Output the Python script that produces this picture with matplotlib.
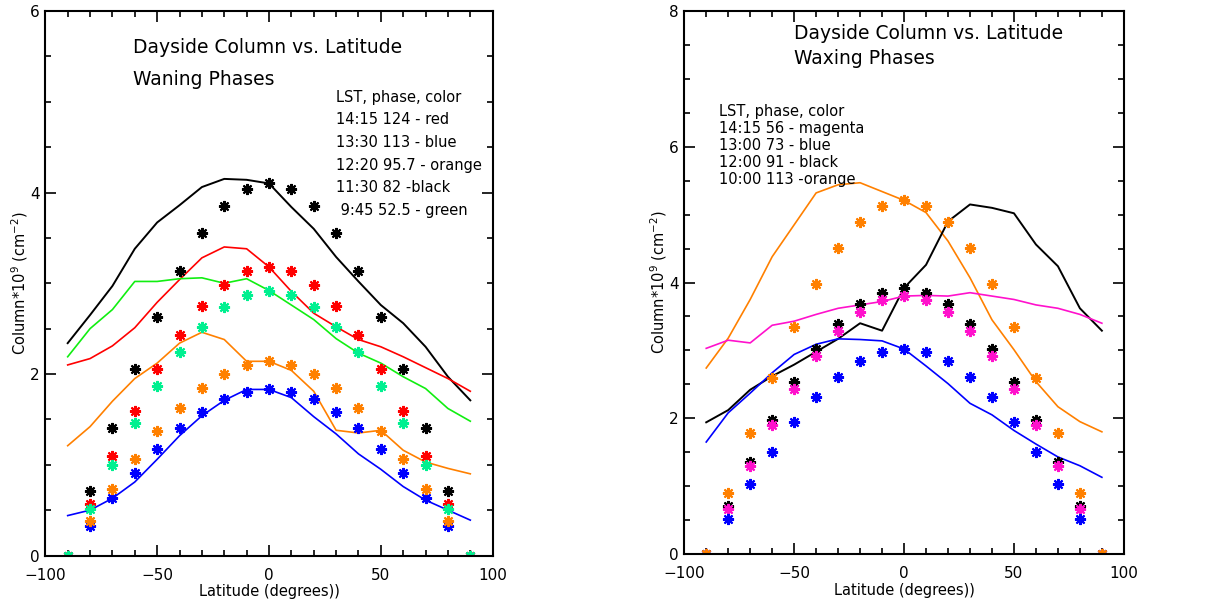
import matplotlib
matplotlib.use("Agg")
import matplotlib.pyplot as plt
from matplotlib.ticker import MultipleLocator

lat = list(range(-90, 91, 10))
half = [0, 10, 20, 30, 40, 50, 60, 70, 80, 90]  # symmetric obs points

# ---- waning phases (left) ----
wan_black_line = [2.34, 2.65, 2.97, 3.38, 3.67, 3.86, 4.06, 4.15, 4.14, 4.10,
                  3.84, 3.60, 3.29, 3.02, 2.76, 2.56, 2.30, 1.97, 1.71]
wan_red_line = [2.10, 2.17, 2.31, 2.51, 2.79, 3.04, 3.28, 3.40, 3.38, 3.18,
                2.91, 2.67, 2.52, 2.38, 2.30, 2.19, 2.07, 1.95, 1.81]
wan_green_line = [2.19, 2.50, 2.71, 3.02, 3.02, 3.05, 3.06, 3.00, 3.05, 2.92,
                  2.76, 2.60, 2.39, 2.23, 2.12, 1.97, 1.84, 1.62, 1.48]
wan_orange_line = [1.21, 1.42, 1.70, 1.95, 2.12, 2.34, 2.46, 2.38, 2.14, 2.14,
                   2.04, 1.81, 1.38, 1.35, 1.38, 1.16, 1.03, 0.96, 0.90]
wan_blue_line = [0.44, 0.50, 0.63, 0.81, 1.06, 1.32, 1.54, 1.71, 1.83, 1.83,
                 1.74, 1.53, 1.34, 1.12, 0.95, 0.76, 0.61, 0.50, 0.39]

wan_black_pts = [4.10, 4.04, 3.85, 3.55, 3.14, 2.63, 2.05, 1.40, 0.71, 0.0]
wan_red_pts = [3.18, 3.13, 2.98, 2.75, 2.43, 2.05, 1.59, 1.10, 0.57, 0.0]
wan_green_pts = [2.92, 2.87, 2.74, 2.52, 2.24, 1.87, 1.46, 1.00, 0.51, 0.0]
wan_orange_pts = [2.14, 2.10, 2.00, 1.85, 1.63, 1.37, 1.06, 0.73, 0.38, 0.0]
wan_blue_pts = [1.83, 1.80, 1.72, 1.58, 1.40, 1.17, 0.91, 0.63, 0.32, 0.0]

wan_legend = ["LST, phase, color", "14:15 124 - red", "13:30 113 - blue",
              "12:20 95.7 - orange", "11:30 82 -black", " 9:45 52.5 - green"]

# ---- waxing phases (right) ----
wax_orange_line = [2.74, 3.18, 3.75, 4.38, 4.85, 5.32, 5.44, 5.47, 5.34, 5.21,
                   5.03, 4.61, 4.07, 3.45, 3.01, 2.54, 2.17, 1.95, 1.80]
wax_black_line = [1.94, 2.12, 2.42, 2.62, 2.79, 2.98, 3.17, 3.40, 3.29, 3.92,
                  4.26, 4.90, 5.15, 5.10, 5.02, 4.56, 4.24, 3.62, 3.29]
wax_magenta_line = [3.03, 3.15, 3.11, 3.37, 3.43, 3.53, 3.62, 3.67, 3.72, 3.80,
                    3.81, 3.80, 3.85, 3.80, 3.75, 3.67, 3.62, 3.53, 3.40]
wax_blue_line = [1.65, 2.08, 2.37, 2.67, 2.94, 3.09, 3.17, 3.16, 3.14, 3.02,
                 2.77, 2.51, 2.22, 2.05, 1.82, 1.62, 1.43, 1.30, 1.13]

wax_black_pts = [3.92, 3.85, 3.68, 3.39, 3.02, 2.53, 1.97, 1.35, 0.70, 0.0]
wax_magenta_pts = [3.80, 3.74, 3.56, 3.28, 2.91, 2.43, 1.90, 1.29, 0.66, 0.0]
wax_blue_pts = [3.02, 2.97, 2.84, 2.61, 2.31, 1.94, 1.50, 1.03, 0.52, 0.0]
wax_orange_pts = [5.21, 5.12, 4.89, 4.51, 3.98, 3.34, 2.60, 1.78, 0.90, 0.0]

wax_legend = ["LST, phase, color", "14:15 56 - magenta", "13:00 73 - blue",
              "12:00 91 - black", "10:00 113 -orange"]

C_ORANGE = '#FF8000'
C_GREEN_LINE = '#11EE11'
C_GREEN_PTS = '#00F090'
C_MAGENTA = '#FF11CC'


def mirror(vals):
    # points are listed from 0 to 90; the profile is symmetric
    xs = [-h for h in half[::-1]] + half[1:]
    ys = vals[::-1] + vals[1:]
    return xs, ys


def stars(ax, vals, color):
    xs, ys = mirror(vals)
    ax.plot(xs, ys, linestyle='none', marker=(8, 2, 0), markersize=8,
            markeredgewidth=1.5, color=color)


def style(ax, ymax):
    ax.set_xlim(-100, 100)
    ax.set_ylim(0, ymax)
    ax.xaxis.set_major_locator(MultipleLocator(50))
    ax.xaxis.set_minor_locator(MultipleLocator(10))
    ax.yaxis.set_major_locator(MultipleLocator(2))
    ax.yaxis.set_minor_locator(MultipleLocator(0.5))
    ax.tick_params(which='both', direction='in', top=True, right=True,
                   labelsize=11, width=1.2)
    ax.tick_params(which='major', length=8)
    ax.tick_params(which='minor', length=4)
    ax.tick_params(axis='y', pad=4)
    ax.tick_params(axis='x', pad=9)
    for s in ax.spines.values():
        s.set_linewidth(1.5)
    ax.set_xlabel('Latitude (degrees))', fontsize=10.5, labelpad=1)
    ax.set_ylabel('Column$*$10$^9$ (cm$^{-2}$)', fontsize=10.5, labelpad=0)


fig = plt.figure(figsize=(12.28, 6.05), dpi=100)

ax1 = fig.add_axes([0.0369, 0.0818, 0.3643, 0.900])
ax1.plot(lat, wan_black_line, color='black', lw=1.4)
ax1.plot(lat, wan_red_line, color='red', lw=1.2)
ax1.plot(lat, wan_green_line, color=C_GREEN_LINE, lw=1.2)
ax1.plot(lat, wan_orange_line, color=C_ORANGE, lw=1.2)
ax1.plot(lat, wan_blue_line, color='blue', lw=1.2)
stars(ax1, wan_black_pts, 'black')
stars(ax1, wan_red_pts, 'red')
stars(ax1, wan_blue_pts, 'blue')
stars(ax1, wan_orange_pts, C_ORANGE)
stars(ax1, wan_green_pts, C_GREEN_PTS)
style(ax1, 6)
ax1.text(-61, 5.6, 'Dayside Column vs. Latitude', fontsize=13.5, va='center')
ax1.text(-61, 5.24, 'Waning Phases', fontsize=13.5, va='center')
for i, line in enumerate(wan_legend):
    ax1.text(30, 5.05 - i * 0.25, line, fontsize=10.5, va='center')

ax2 = fig.add_axes([0.5572, 0.0843, 0.3580, 0.8975])
ax2.plot(lat, wax_orange_line, color=C_ORANGE, lw=1.2)
ax2.plot(lat, wax_black_line, color='black', lw=1.4)
ax2.plot(lat, wax_magenta_line, color=C_MAGENTA, lw=1.2)
ax2.plot(lat, wax_blue_line, color='blue', lw=1.2)
stars(ax2, wax_black_pts, 'black')
stars(ax2, wax_magenta_pts, C_MAGENTA)
stars(ax2, wax_blue_pts, 'blue')
stars(ax2, wax_orange_pts, C_ORANGE)
style(ax2, 8)
ax2.text(-50, 7.67, 'Dayside Column vs. Latitude', fontsize=13.5, va='center')
ax2.text(-50, 7.30, 'Waxing Phases', fontsize=13.5, va='center')
for i, line in enumerate(wax_legend):
    ax2.text(-84, 6.52 - i * 0.25, line, fontsize=10.5, va='center')

fig.savefig('out.png', dpi=100)
